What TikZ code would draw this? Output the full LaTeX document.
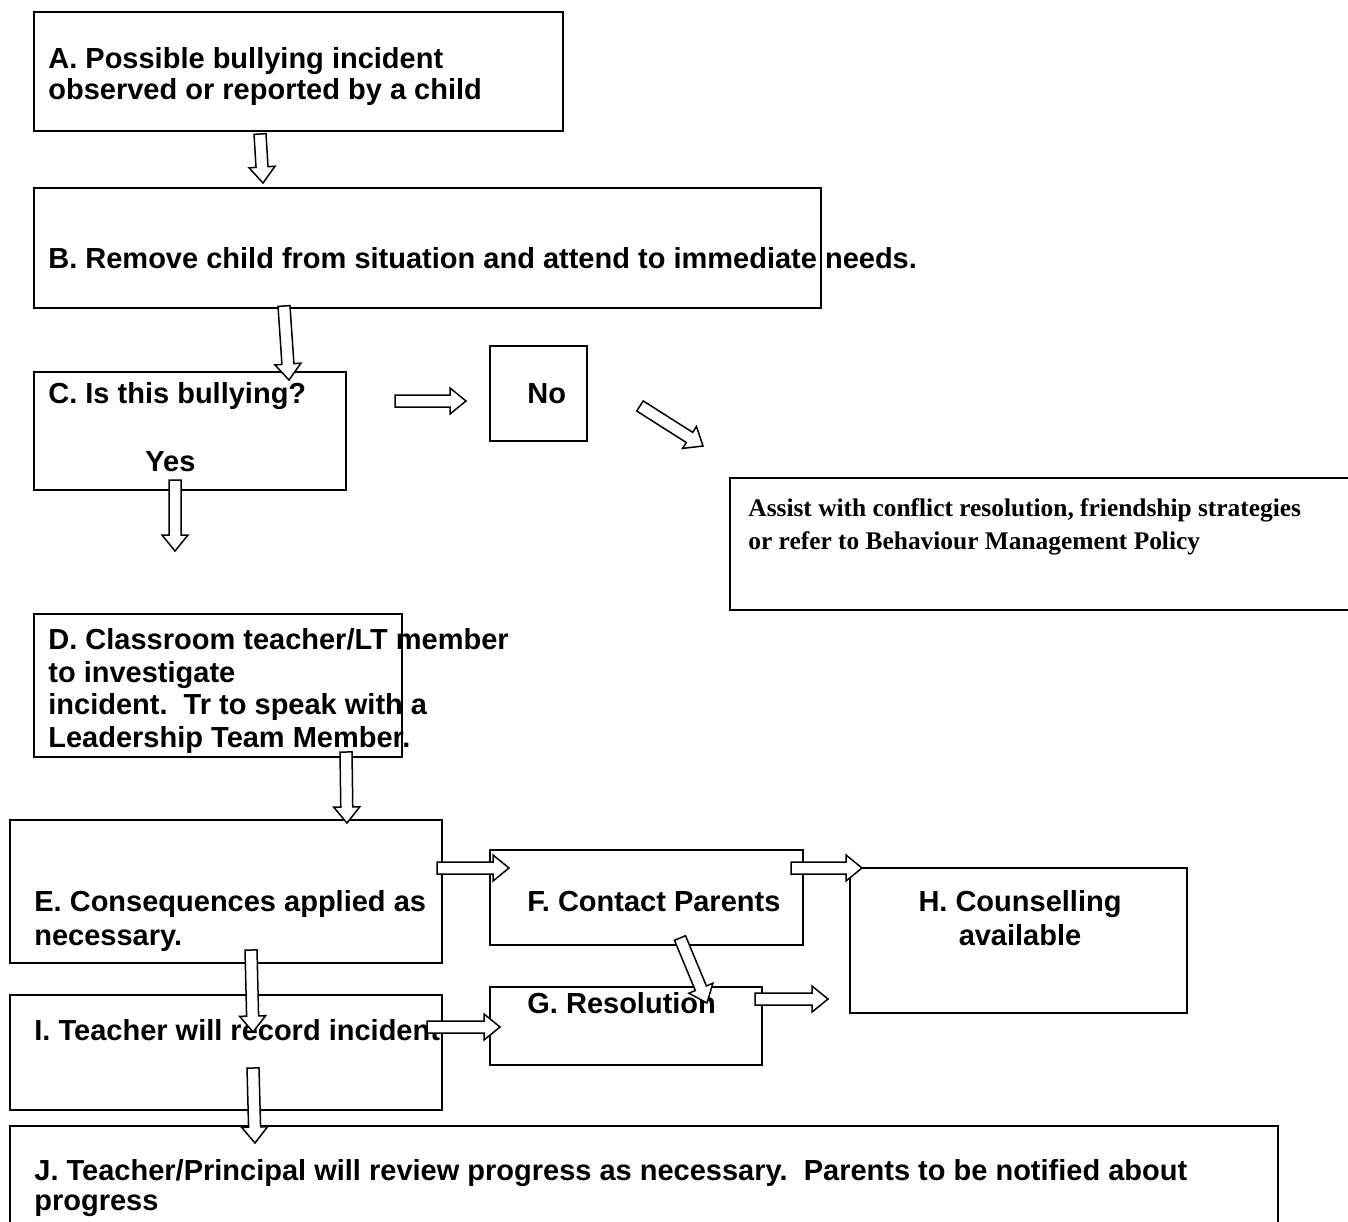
\documentclass[tikz,border=0pt]{standalone}
\usepackage{fontspec}
\setmainfont{Liberation Sans}
\newfontfamily\timesfont{Liberation Serif}
\usetikzlibrary{calc}
\newcommand\boxnode[5]{%
  \node[box, minimum width={(#4-#2)*0.5pt}, minimum height={(#5-#3)*0.5pt}] (#1) at ({(#2+#4)/2},{(#3+#5)/2}) {};}
\newcommand\blockarr[2]{%
  \coordinate (bah) at ($(#2)!8pt!(#1)$);
  \draw[barrow] ($(#1)!3pt!90:(#2)$) -- ($(bah)!3pt!90:(#2)$) -- ($(bah)!6.5pt!90:(#2)$) -- (#2)
    -- ($(bah)!6.5pt!-90:(#2)$) -- ($(bah)!3pt!-90:(#2)$) -- ($(#1)!3pt!-90:(#2)$) -- cycle;}
\begin{document}
\begin{tikzpicture}[x=0.5pt,y=-0.5pt,
  box/.style={draw, line width=1pt, inner sep=0pt, fill=none},
  txt/.style={inner sep=0pt, anchor=base west, align=left, font=\fontsize{14.5}{15.5}\selectfont\bfseries},
  sertxt/.style={inner sep=0pt, anchor=base west, align=left, font=\fontsize{12.7}{16.5}\timesfont\bfseries},
  barrow/.style={draw, fill=white, line width=0.75pt, line join=miter}]
\useasboundingbox (0,0) rectangle (1348,1221);
\clip (0,0) rectangle (1348,1221);
\fill[white] (0,0) rectangle (1348,1221);
% boxes
\boxnode{A}{34}{12}{563}{131}
\boxnode{B}{34}{188}{821}{308}
\boxnode{C}{34}{372}{346}{490}
\boxnode{N}{490}{346}{587}{441}
\boxnode{K}{730}{478}{1360}{610}
\boxnode{D}{34}{614}{402}{757}
\boxnode{E}{10}{820}{442}{963}
\boxnode{F}{490}{850}{803}{945}
\boxnode{H}{850}{868}{1187}{1013}
\boxnode{G}{490}{987}{762}{1065}
\boxnode{I}{10}{995}{442}{1110}
\boxnode{J}{10}{1126}{1278}{1240}
% texts (multi-line nodes are placed by the baseline of their last line)
\node[txt] (tA) at (48,99) {A. Possible bullying incident\\observed or reported by a child};
\node[txt] (tB) at (48,268) {B. Remove child from situation and attend to immediate needs.};
\node[txt] (tC) at (48,403) {C. Is this bullying?};
\node[txt] (tY) at (145,471) {Yes};
\node[txt] (tN) at (527,403) {No};
\node[sertxt] (tK) at (748,549) {Assist with conflict resolution, friendship strategies\\or refer to Behaviour Management Policy};
\node[txt, font=\fontsize{14.5}{16.2}\selectfont\bfseries] (tD) at (48,747) {D. Classroom teacher/LT member\\to investigate\\incident.\ \ Tr to speak with a\\Leadership Team Member.};
\node[txt, font=\fontsize{14.5}{17}\selectfont\bfseries] (tE) at (34,945) {E. Consequences applied as\\necessary.};
\node[txt] (tF) at (527,911) {F. Contact Parents};
\node[txt, anchor=base, align=center, font=\fontsize{14.5}{17}\selectfont\bfseries] (tH) at (1020,945) {H. Counselling\\available};
\node[txt] (tG) at (527,1013) {G. Resolution};
\node[txt] (tI) at (34,1040) {I. Teacher will record incident};
\node[txt, font=\fontsize{14.5}{15}\selectfont\bfseries] (tJ) at (34,1210) {J. Teacher/Principal will review progress as necessary.\ \ Parents to be notified about\\progress};
% arrow end points
\coordinate (ab1) at (260,134);  \coordinate (ab2) at (263,183);
\coordinate (bc1) at (284,306);  \coordinate (bc2) at (289,380);
\coordinate (cn1) at (395,401);  \coordinate (cn2) at (466,401);
\coordinate (nk1) at (640,406);  \coordinate (nk2) at (703,446);
\coordinate (cd1) at (175,480);  \coordinate (cd2) at (175,551);
\coordinate (de1) at (346,752);  \coordinate (de2) at (347,823);
\coordinate (ef1) at (437,868);  \coordinate (ef2) at (509,868);
\coordinate (fh1) at (791,868);  \coordinate (fh2) at (862,868);
\coordinate (fg1) at (680,938);  \coordinate (fg2) at (707,1003);
\coordinate (gh1) at (755,999);  \coordinate (gh2) at (828,999);
\coordinate (ei1) at (251,950);  \coordinate (ei2) at (253,1032);
\coordinate (ig1) at (427,1027); \coordinate (ig2) at (500,1027);
\coordinate (ij1) at (253,1068); \coordinate (ij2) at (255,1143);
% arrows
\blockarr{ab1}{ab2}
\blockarr{bc1}{bc2}
\blockarr{cn1}{cn2}
\blockarr{nk1}{nk2}
\blockarr{cd1}{cd2}
\blockarr{de1}{de2}
\blockarr{ef1}{ef2}
\blockarr{fh1}{fh2}
\blockarr{fg1}{fg2}
\blockarr{gh1}{gh2}
\blockarr{ei1}{ei2}
\blockarr{ig1}{ig2}
\blockarr{ij1}{ij2}
\end{tikzpicture}
\end{document}
